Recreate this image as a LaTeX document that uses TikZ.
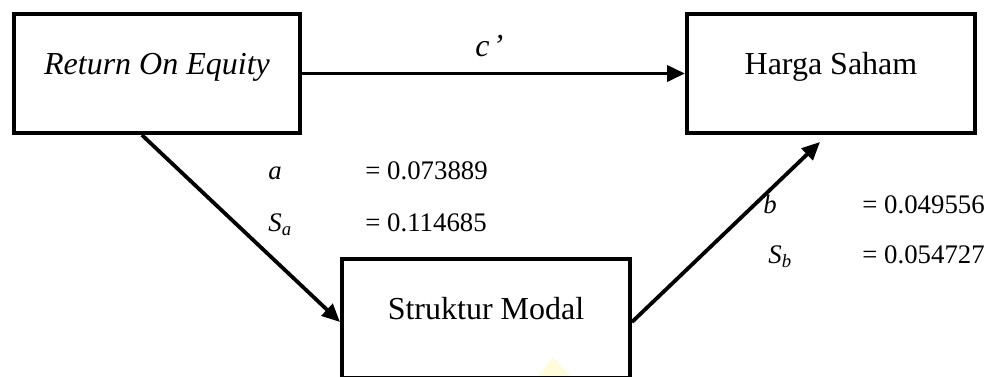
\documentclass[tikz,border=0pt]{standalone}
\usepackage{fontspec}
\setmainfont{Liberation Serif}
\usetikzlibrary{arrows.meta,calc}
\begin{document}
\begin{tikzpicture}[x=0.5pt,y=-0.5pt,
  box/.style={draw,line width=2pt,inner sep=0pt,text height=30pt,text depth=29.5pt,font=\fontsize{16}{19}\selectfont},
  arr/.style={line width=1.9pt,-{Triangle[length=9pt,width=8pt]}},
  lab/.style={anchor=base west,inner sep=0pt,font=\fontsize{13.4}{16}\selectfont},
  bigl/.style={anchor=base west,inner sep=0pt,font=\fontsize{16}{19}\selectfont}]
\useasboundingbox (0,0) rectangle (987,376);
\clip (0,0) rectangle (987,376);
\fill[yellow!15!white] (553,357) -- (538,376) -- (570,376) -- cycle;
\node[box,minimum width=143pt,anchor=north west] (roe) at (12,12) {\textit{Return On Equity}};
\node[box,minimum width=144pt,anchor=north west] (harga) at (685,12) {Harga Saham};
\node[box,minimum width=144pt,anchor=north west] (sm) at (340,257) {Struktur Modal};
\draw[arr] (roe.east) -- (harga.west);
\coordinate (p1) at ($(roe.south west)!0.448!(roe.south east)$);
\draw[arr] (p1) -- ([yshift=-32.5pt]sm.north west);
\draw[arr] ([yshift=-32.5pt]sm.north east) -- ([xshift=-5.5pt,yshift=-3.5pt]harga.south);
\node[bigl] (cp) at (475,56) {\textit{c\kern1.5pt’}};
\node[lab] (la) at (268,179) {\textit{a}};
\node[lab] (va) at (365,179) {= 0.073889};
\node[lab] (lsa) at (268,231) {\textit{S}\textsubscript{\textit{a}}};
\node[lab] (vsa) at (365,231) {= 0.114685};
\node[lab] (lb) at (763,213) {\textit{b}};
\node[lab] (vb) at (862,213) {= 0.049556};
\node[lab] (lsb) at (768,263) {\textit{S}\textsubscript{\textit{b}}};
\node[lab] (vsb) at (862,263) {= 0.054727};
\end{tikzpicture}
\end{document}
